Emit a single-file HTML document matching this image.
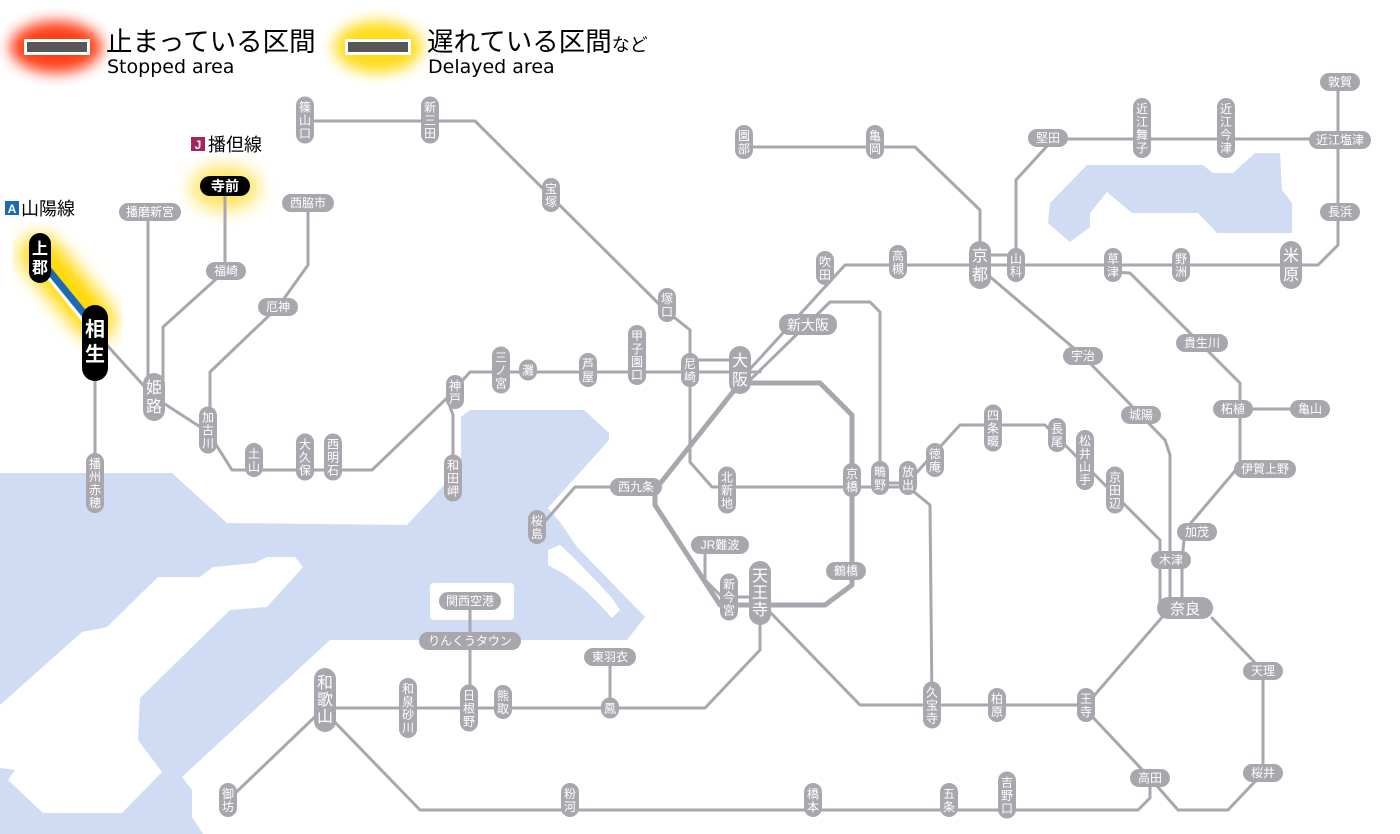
<!DOCTYPE html>
<html><head><meta charset="utf-8"><style>
body{margin:0;background:#fff;width:1400px;height:834px;overflow:hidden}
svg{display:block}
.ln{fill:none;stroke:#aaa6ae;stroke-width:3;stroke-linejoin:round;stroke-linecap:round}
.lr{fill:#a9a6ad}
.tx{fill:#fff;font-family:"Liberation Sans","Noto Sans CJK JP",sans-serif;font-size:12px;text-anchor:middle}
.bt{fill:#fff;font-family:"Liberation Sans","Noto Sans CJK JP",sans-serif;font-size:16px;text-anchor:middle}
.bk{fill:#000}
</style></head><body>
<svg width="1400" height="834" viewBox="0 0 1400 834" xmlns="http://www.w3.org/2000/svg">
<defs>
<filter id="bl" x="-50%" y="-50%" width="200%" height="200%"><feGaussianBlur stdDeviation="9"/></filter>
<filter id="bl2" x="-50%" y="-50%" width="200%" height="200%"><feGaussianBlur stdDeviation="7"/></filter>
</defs>
<!-- sea -->
<path fill="#cfdcf3" d="M0,473 L172,473 L227,523 L407,525 L461,467 L461,417 L470,410 L584,410 L609,433 L609,440 L548,508 L560,522 L577,547 L645,617 L627,640 L330,640 L182,777 L192,790 L192,817 L203,834 L0,834 Z"/>
<path fill="#fff" d="M0,705 L82,632 L107,627 L158,577 L200,577 L213,567 L255,563 L267,557 L295,557 L303,567 L267,607 L230,610 L140,698 L138,740 L162,772 L122,813 L43,813 L8,780 L15,770 L0,768 Z"/>
<path fill="#fff" d="M548,550 L560,545 L572,556 L600,585 L612,598 L620,610 L612,618 L600,605 L585,590 L566,575 L548,565 Z"/>
<rect x="430" y="583" width="84" height="37" rx="4" fill="#fff"/>
<!-- lake -->
<path fill="#cfdcf3" d="M1050,203 L1087,165 L1203,165 L1213,173 L1233,173 L1255,153 L1280,153 L1282,190 L1292,203 L1292,233 L1217,233 L1198,213 L1132,213 L1107,192 L1090,213 L1090,227 L1070,242 L1048,223 Z"/>

<!-- legend -->
<ellipse cx="56" cy="47" rx="46" ry="26" fill="#ff2a00" filter="url(#bl2)" opacity="0.9"/>
<rect x="24" y="39" width="66" height="16" fill="#fff"/><rect x="27" y="42" width="60" height="10" fill="#575757"/>
<text x="106" y="51" font-family="Liberation Sans,'Noto Sans CJK JP',sans-serif" font-size="26.5">止まっている区間</text>
<text x="107" y="73" font-family="'DejaVu Sans',sans-serif" font-size="19">Stopped area</text>
<ellipse cx="378" cy="47" rx="44" ry="26" fill="#ffd800" filter="url(#bl2)" opacity="0.9"/>
<rect x="345" y="39" width="66" height="16" fill="#fff"/><rect x="348" y="42" width="60" height="10" fill="#575757"/>
<text x="427" y="51" font-family="Liberation Sans,'Noto Sans CJK JP',sans-serif" font-size="26.5">遅れている区間<tspan font-size="18">など</tspan></text>
<text x="428" y="73" font-family="'DejaVu Sans',sans-serif" font-size="19">Delayed area</text>

<!-- glows -->
<line x1="40" y1="255" x2="95" y2="320" stroke="#ffd800" stroke-width="40" stroke-linecap="round" filter="url(#bl)"/>
<line x1="95" y1="320" x2="95" y2="360" stroke="#ffd800" stroke-width="40" stroke-linecap="round" filter="url(#bl)"/>
<ellipse cx="225" cy="188" rx="34" ry="22" fill="#ffe35a" filter="url(#bl)"/>

<!-- lines -->
<g class="ln">
<polyline points="105,343 154,397 208,432 232,470 372,470 447,398 470,372 760,372"/>
<polyline points="95,380 95,483"/>
<polyline points="148,212 148,397"/>
<polyline points="225,195 225,271 163,327 163,397"/>
<polyline points="308,203 308,265 278,307 210,372 210,430"/>
<polyline points="447,398 453,415 453,478"/>
<polyline points="305,121 475,121 665,310 690,330 690,462 712,487 908,487"/>
<polyline points="690,360 740,360"/>
<polyline points="740,380 845,265 1300,265 1318,265 1338,245 1338,82"/>
<polyline points="748,382 830,302 870,302 880,312 880,478"/>
<polyline points="636,487 575,487 540,527"/>
<polyline points="705,545 705,580 722,597"/>
<polyline points="770,612 860,705 1086,705 1170,608"/>
<polyline points="1086,710 1150,778 1150,798 1138,810 420,810 325,712"/>
<polyline points="1150,778 1178,810 1228,810 1263,773 1263,671 1212,618"/>
<polyline points="760,610 760,650 705,708 325,708"/>
<polyline points="610,657 610,708"/>
<polyline points="470,601 470,708"/>
<polyline points="320,712 228,800"/>
<polyline points="908,487 930,505 932,705"/>
<polyline points="908,482 960,425 1045,425 1160,540 1160,605"/>
<polyline points="880,483 908,483"/>
<polyline points="988,275 1083,356 1165,440 1170,455 1170,605"/>
<polyline points="1113,272 1130,273 1240,383 1240,465 1185,530 1182,560 1182,605"/>
<polyline points="1240,409 1310,409"/>
<polyline points="744,147 915,147 980,210 980,255"/>
<polyline points="1016,255 1016,180 1048,145 1048,139 1340,139"/>
<polyline points="980,255 1016,255"/>
<polyline points="729,597 760,597"/>
</g>
<polyline fill="none" stroke="#aaa6ae" stroke-width="5" stroke-linejoin="round" points="740,383 820,383 852,415 852,585 825,605 720,605 655,505 655,490 740,383"/>
<line x1="40" y1="262" x2="95" y2="330" stroke="#fff" stroke-width="10"/>
<line x1="42" y1="262" x2="95" y2="327" stroke="#1a6ab5" stroke-width="7"/>

<!-- route labels -->
<rect x="3" y="197" width="78" height="23" rx="3" fill="#fff"/>
<rect x="5" y="201" width="14" height="14" fill="#1a6ab5"/><text x="12" y="213" fill="#fff" font-family="Liberation Sans,sans-serif" font-size="12" font-weight="bold" text-anchor="middle">A</text>
<text x="21" y="215" font-family="Liberation Sans,'Noto Sans CJK JP',sans-serif" font-size="18">山陽線</text>
<rect x="188" y="133" width="80" height="23" rx="3" fill="#fff"/>
<rect x="191" y="137" width="14" height="14" fill="#a3245d"/><text x="198" y="149" fill="#fff" font-family="Liberation Sans,sans-serif" font-size="12" font-weight="bold" text-anchor="middle">J</text>
<text x="208" y="151" font-family="Liberation Sans,'Noto Sans CJK JP',sans-serif" font-size="18">播但線</text>

<!-- black stations -->
<g transform="translate(40,258)"><rect class="bk" x="-11" y="-25" width="22" height="50" rx="11"/><text class="bt" y="-4" font-weight="bold">上</text><text class="bt" y="15" font-weight="bold">郡</text></g>
<g transform="translate(95,343)"><rect class="bk" x="-13" y="-38" width="26" height="76" rx="13"/><text class="bt" style="font-size:20px" y="-7" font-weight="bold">相</text><text class="bt" style="font-size:20px" y="18" font-weight="bold">生</text></g>
<g transform="translate(225,186)"><rect class="bk" x="-25" y="-10" width="50" height="20" rx="10"/><text class="bt" style="font-size:14px" y="5" font-weight="bold">寺前</text></g>

<!-- horizontal labels -->
<g class="lr">
<rect x="119" y="203" width="62" height="18" rx="9"/>
<rect x="206" y="262" width="40" height="18" rx="9"/>
<rect x="282" y="194" width="52" height="18" rx="9"/>
<rect x="258" y="298" width="40" height="18" rx="9"/>
<rect x="779" y="314" width="58" height="21" rx="10"/>
<rect x="610" y="478" width="52" height="18" rx="9"/>
<rect x="691" y="536" width="58" height="18" rx="9"/>
<rect x="826" y="562" width="40" height="18" rx="9"/>
<rect x="439" y="592" width="62" height="18" rx="9"/>
<rect x="419" y="632" width="102" height="18" rx="9"/>
<rect x="584" y="648" width="52" height="18" rx="9"/>
<rect x="1063" y="347" width="40" height="18" rx="9"/>
<rect x="1121" y="406" width="40" height="18" rx="9"/>
<rect x="1176" y="334" width="52" height="18" rx="9"/>
<rect x="1213" y="400" width="40" height="18" rx="9"/>
<rect x="1290" y="400" width="40" height="18" rx="9"/>
<rect x="1234" y="460" width="62" height="18" rx="9"/>
<rect x="1177" y="523" width="40" height="18" rx="9"/>
<rect x="1151" y="551" width="40" height="18" rx="9"/>
<rect x="1157" y="597" width="56" height="22" rx="11"/>
<rect x="1243" y="662" width="40" height="18" rx="9"/>
<rect x="1243" y="764" width="40" height="18" rx="9"/>
<rect x="1130" y="769" width="40" height="18" rx="9"/>
<rect x="1028" y="129" width="40" height="18" rx="9"/>
<rect x="1320" y="73" width="40" height="18" rx="9"/>
<rect x="1309" y="131" width="62" height="18" rx="9"/>
<rect x="1320" y="203" width="40" height="18" rx="9"/>
</g>
<g class="tx">
<text x="150" y="216">播磨新宮</text><text x="226" y="275">福崎</text><text x="308" y="207">西脇市</text><text x="278" y="311">厄神</text>
<text x="808" y="330" style="font-size:14px">新大阪</text><text x="636" y="491">西九条</text><text x="720" y="549">JR難波</text><text x="846" y="575">鶴橋</text>
<text x="470" y="605">関西空港</text><text x="470" y="645">りんくうタウン</text><text x="610" y="661">東羽衣</text>
<text x="1083" y="360">宇治</text><text x="1141" y="419">城陽</text><text x="1202" y="347">貴生川</text><text x="1233" y="413">柘植</text><text x="1310" y="413">亀山</text>
<text x="1265" y="473">伊賀上野</text><text x="1197" y="536">加茂</text><text x="1171" y="564">木津</text><text x="1185" y="614" style="font-size:15px">奈良</text>
<text x="1263" y="675">天理</text><text x="1263" y="777">桜井</text><text x="1150" y="782">高田</text><text x="1048" y="142">堅田</text><text x="1340" y="86">敦賀</text><text x="1340" y="144">近江塩津</text><text x="1340" y="216">長浜</text>
</g>

<g transform="translate(528,370)"><rect class="lr" x="-9" y="-10.5" width="18" height="21" rx="9"/><text class="tx" y="4.5">灘</text></g>
<g transform="translate(610,708)"><rect class="lr" x="-9" y="-10.5" width="18" height="21" rx="9"/><text class="tx" y="4.5">鳳</text></g>
<g transform="translate(551,195)"><rect class="lr" x="-9" y="-17" width="18" height="34" rx="9"/><text class="tx" y="-2">宝</text><text class="tx" y="11">塚</text></g>
<g transform="translate(667,305)"><rect class="lr" x="-9" y="-17" width="18" height="34" rx="9"/><text class="tx" y="-2">塚</text><text class="tx" y="11">口</text></g>
<g transform="translate(588,370)"><rect class="lr" x="-9" y="-17" width="18" height="34" rx="9"/><text class="tx" y="-2">芦</text><text class="tx" y="11">屋</text></g>
<g transform="translate(690,370)"><rect class="lr" x="-9" y="-17" width="18" height="34" rx="9"/><text class="tx" y="-2">尼</text><text class="tx" y="11">崎</text></g>
<g transform="translate(455,392)"><rect class="lr" x="-9" y="-17" width="18" height="34" rx="9"/><text class="tx" y="-2">神</text><text class="tx" y="11">戸</text></g>
<g transform="translate(254,460)"><rect class="lr" x="-9" y="-17" width="18" height="34" rx="9"/><text class="tx" y="-2">土</text><text class="tx" y="11">山</text></g>
<g transform="translate(852,480)"><rect class="lr" x="-9" y="-17" width="18" height="34" rx="9"/><text class="tx" y="-2">京</text><text class="tx" y="11">橋</text></g>
<g transform="translate(880,478)"><rect class="lr" x="-9" y="-17" width="18" height="34" rx="9"/><text class="tx" y="-2">鴫</text><text class="tx" y="11">野</text></g>
<g transform="translate(908,478)"><rect class="lr" x="-9" y="-17" width="18" height="34" rx="9"/><text class="tx" y="-2">放</text><text class="tx" y="11">出</text></g>
<g transform="translate(935,460)"><rect class="lr" x="-9" y="-17" width="18" height="34" rx="9"/><text class="tx" y="-2">徳</text><text class="tx" y="11">庵</text></g>
<g transform="translate(1057,435)"><rect class="lr" x="-9" y="-17" width="18" height="34" rx="9"/><text class="tx" y="-2">長</text><text class="tx" y="11">尾</text></g>
<g transform="translate(537,527)"><rect class="lr" x="-9" y="-17" width="18" height="34" rx="9"/><text class="tx" y="-2">桜</text><text class="tx" y="11">島</text></g>
<g transform="translate(997,705)"><rect class="lr" x="-9" y="-17" width="18" height="34" rx="9"/><text class="tx" y="-2">柏</text><text class="tx" y="11">原</text></g>
<g transform="translate(1086,705)"><rect class="lr" x="-9" y="-17" width="18" height="34" rx="9"/><text class="tx" y="-2">王</text><text class="tx" y="11">寺</text></g>
<g transform="translate(503,702)"><rect class="lr" x="-9" y="-17" width="18" height="34" rx="9"/><text class="tx" y="-2">熊</text><text class="tx" y="11">取</text></g>
<g transform="translate(228,800)"><rect class="lr" x="-9" y="-17" width="18" height="34" rx="9"/><text class="tx" y="-2">御</text><text class="tx" y="11">坊</text></g>
<g transform="translate(570,800)"><rect class="lr" x="-9" y="-17" width="18" height="34" rx="9"/><text class="tx" y="-2">粉</text><text class="tx" y="11">河</text></g>
<g transform="translate(813,800)"><rect class="lr" x="-9" y="-17" width="18" height="34" rx="9"/><text class="tx" y="-2">橋</text><text class="tx" y="11">本</text></g>
<g transform="translate(949,800)"><rect class="lr" x="-9" y="-17" width="18" height="34" rx="9"/><text class="tx" y="-2">五</text><text class="tx" y="11">条</text></g>
<g transform="translate(744,142)"><rect class="lr" x="-9" y="-17" width="18" height="34" rx="9"/><text class="tx" y="-2">園</text><text class="tx" y="11">部</text></g>
<g transform="translate(875,142)"><rect class="lr" x="-9" y="-17" width="18" height="34" rx="9"/><text class="tx" y="-2">亀</text><text class="tx" y="11">岡</text></g>
<g transform="translate(1016,265)"><rect class="lr" x="-9" y="-17" width="18" height="34" rx="9"/><text class="tx" y="-2">山</text><text class="tx" y="11">科</text></g>
<g transform="translate(1113,265)"><rect class="lr" x="-9" y="-17" width="18" height="34" rx="9"/><text class="tx" y="-2">草</text><text class="tx" y="11">津</text></g>
<g transform="translate(1181,265)"><rect class="lr" x="-9" y="-17" width="18" height="34" rx="9"/><text class="tx" y="-2">野</text><text class="tx" y="11">洲</text></g>
<g transform="translate(825,268)"><rect class="lr" x="-9" y="-17" width="18" height="34" rx="9"/><text class="tx" y="-2">吹</text><text class="tx" y="11">田</text></g>
<g transform="translate(898,262)"><rect class="lr" x="-9" y="-17" width="18" height="34" rx="9"/><text class="tx" y="-2">高</text><text class="tx" y="11">槻</text></g>
<g transform="translate(305,120)"><rect class="lr" x="-9" y="-23.5" width="18" height="47" rx="9"/><text class="tx" y="-8.5">篠</text><text class="tx" y="4.5">山</text><text class="tx" y="17.5">口</text></g>
<g transform="translate(430,120)"><rect class="lr" x="-9" y="-23.5" width="18" height="47" rx="9"/><text class="tx" y="-8.5">新</text><text class="tx" y="4.5">三</text><text class="tx" y="17.5">田</text></g>
<g transform="translate(501,370)"><rect class="lr" x="-9" y="-23.5" width="18" height="47" rx="9"/><text class="tx" y="-8.5">三</text><text class="tx" y="4.5">ノ</text><text class="tx" y="17.5">宮</text></g>
<g transform="translate(453,478)"><rect class="lr" x="-9" y="-23.5" width="18" height="47" rx="9"/><text class="tx" y="-8.5">和</text><text class="tx" y="4.5">田</text><text class="tx" y="17.5">岬</text></g>
<g transform="translate(333,457)"><rect class="lr" x="-9" y="-23.5" width="18" height="47" rx="9"/><text class="tx" y="-8.5">西</text><text class="tx" y="4.5">明</text><text class="tx" y="17.5">石</text></g>
<g transform="translate(305,457)"><rect class="lr" x="-9" y="-23.5" width="18" height="47" rx="9"/><text class="tx" y="-8.5">大</text><text class="tx" y="4.5">久</text><text class="tx" y="17.5">保</text></g>
<g transform="translate(208,430)"><rect class="lr" x="-9" y="-23.5" width="18" height="47" rx="9"/><text class="tx" y="-8.5">加</text><text class="tx" y="4.5">古</text><text class="tx" y="17.5">川</text></g>
<g transform="translate(727,490)"><rect class="lr" x="-9" y="-23.5" width="18" height="47" rx="9"/><text class="tx" y="-8.5">北</text><text class="tx" y="4.5">新</text><text class="tx" y="17.5">地</text></g>
<g transform="translate(993,428)"><rect class="lr" x="-9" y="-23.5" width="18" height="47" rx="9"/><text class="tx" y="-8.5">四</text><text class="tx" y="4.5">条</text><text class="tx" y="17.5">畷</text></g>
<g transform="translate(1115,490)"><rect class="lr" x="-9" y="-23.5" width="18" height="47" rx="9"/><text class="tx" y="-8.5">京</text><text class="tx" y="4.5">田</text><text class="tx" y="17.5">辺</text></g>
<g transform="translate(729,597)"><rect class="lr" x="-9" y="-23.5" width="18" height="47" rx="9"/><text class="tx" y="-8.5">新</text><text class="tx" y="4.5">今</text><text class="tx" y="17.5">宮</text></g>
<g transform="translate(932,705)"><rect class="lr" x="-9" y="-23.5" width="18" height="47" rx="9"/><text class="tx" y="-8.5">久</text><text class="tx" y="4.5">宝</text><text class="tx" y="17.5">寺</text></g>
<g transform="translate(469,708)"><rect class="lr" x="-9" y="-23.5" width="18" height="47" rx="9"/><text class="tx" y="-8.5">日</text><text class="tx" y="4.5">根</text><text class="tx" y="17.5">野</text></g>
<g transform="translate(1007,795)"><rect class="lr" x="-9" y="-23.5" width="18" height="47" rx="9"/><text class="tx" y="-8.5">吉</text><text class="tx" y="4.5">野</text><text class="tx" y="17.5">口</text></g>
<g transform="translate(637,355)"><rect class="lr" x="-9" y="-30" width="18" height="60" rx="9"/><text class="tx" y="-15">甲</text><text class="tx" y="-2">子</text><text class="tx" y="11">園</text><text class="tx" y="24">口</text></g>
<g transform="translate(95,483)"><rect class="lr" x="-9" y="-30" width="18" height="60" rx="9"/><text class="tx" y="-15">播</text><text class="tx" y="-2">州</text><text class="tx" y="11">赤</text><text class="tx" y="24">穂</text></g>
<g transform="translate(1085,460)"><rect class="lr" x="-9" y="-30" width="18" height="60" rx="9"/><text class="tx" y="-15">松</text><text class="tx" y="-2">井</text><text class="tx" y="11">山</text><text class="tx" y="24">手</text></g>
<g transform="translate(408,708)"><rect class="lr" x="-9" y="-30" width="18" height="60" rx="9"/><text class="tx" y="-15">和</text><text class="tx" y="-2">泉</text><text class="tx" y="11">砂</text><text class="tx" y="24">川</text></g>
<g transform="translate(1142,128)"><rect class="lr" x="-9" y="-30" width="18" height="60" rx="9"/><text class="tx" y="-15">近</text><text class="tx" y="-2">江</text><text class="tx" y="11">舞</text><text class="tx" y="24">子</text></g>
<g transform="translate(1226,128)"><rect class="lr" x="-9" y="-30" width="18" height="60" rx="9"/><text class="tx" y="-15">近</text><text class="tx" y="-2">江</text><text class="tx" y="11">今</text><text class="tx" y="24">津</text></g>
<g transform="translate(740,370)"><rect class="lr" x="-11" y="-24" width="22" height="48" rx="11"/><text class="bt" y="-4">大</text><text class="bt" y="15">阪</text></g>
<g transform="translate(980,265)"><rect class="lr" x="-11" y="-24" width="22" height="48" rx="11"/><text class="bt" y="-4">京</text><text class="bt" y="15">都</text></g>
<g transform="translate(154,397)"><rect class="lr" x="-11" y="-24" width="22" height="48" rx="11"/><text class="bt" y="-4">姫</text><text class="bt" y="15">路</text></g>
<g transform="translate(1291,265)"><rect class="lr" x="-11" y="-24" width="22" height="48" rx="11"/><text class="bt" y="-4">米</text><text class="bt" y="15">原</text></g>
<g transform="translate(760,593)"><rect class="lr" x="-11" y="-32" width="22" height="64" rx="11"/><text class="bt" y="-12">天</text><text class="bt" y="5">王</text><text class="bt" y="22">寺</text></g>
<g transform="translate(325,700)"><rect class="lr" x="-11" y="-32" width="22" height="64" rx="11"/><text class="bt" y="-12">和</text><text class="bt" y="5">歌</text><text class="bt" y="22">山</text></g>
</svg>
</body></html>
